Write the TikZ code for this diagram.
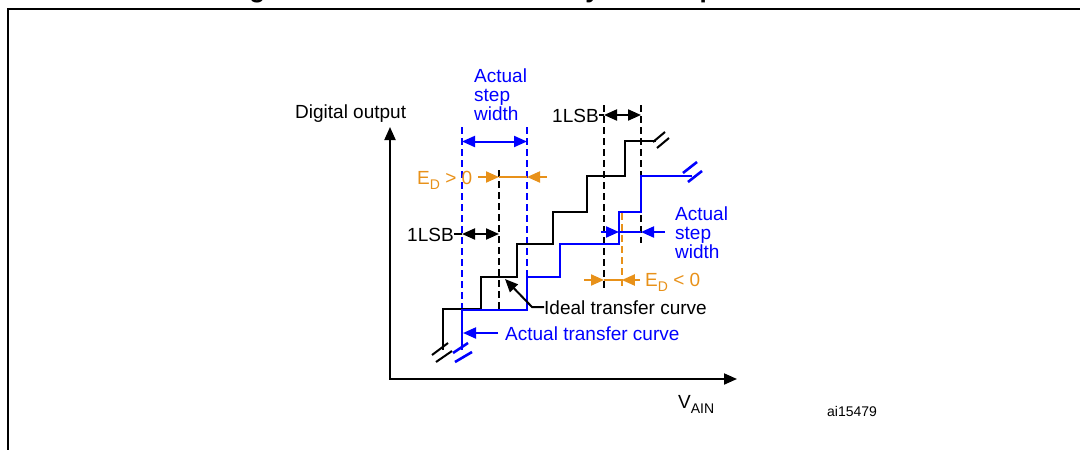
\documentclass[tikz,border=0pt]{standalone}
\usepackage{fontspec}
\setmainfont{Liberation Sans}
\usetikzlibrary{arrows.meta}
\definecolor{ablue}{RGB}{0,0,255}
\definecolor{aorange}{RGB}{232,145,25}
\newcommand\subtxt[1]{\raisebox{-0.3em}{\fontsize{14}{14}\selectfont #1}}
\begin{document}
\begin{tikzpicture}[x=1pt,y=-1pt,
  lbl/.style={inner sep=0pt, font=\fontsize{19}{19}\selectfont},
  multi/.style={lbl, align=left, anchor=north west},
  curve/.style={line width=2pt, line join=miter},
  brk/.style={line width=2pt},
  dsh/.style={line width=1.9pt, dash pattern=on 7pt off 4pt},
  conn/.style={line width=2pt},
  tipend/.style={-{Triangle[length=13pt,width=11pt]}},
  tipboth/.style={{Triangle[length=13pt,width=11pt]}-{Triangle[length=13pt,width=11pt]}},
]
\useasboundingbox (0,0) rectangle (1080,450);

% frame and clipped title
\draw[line width=2.5pt] (1082,9) -- (8,9) -- (8,452);
\node[anchor=base west, inner sep=0pt, font=\bfseries\fontsize{26}{26}\selectfont] (title) at (226,-2.5) {Figure 11. Differential linearity error representation};

% axes
\coordinate (O) at (390,379);
\coordinate (ytip) at (390,127);
\coordinate (xtip) at (737,379);
\draw[line width=2pt, line join=miter, tipboth] (ytip) -- (O) -- (xtip);
\node[lbl, anchor=base west] (yl) at (295,118) {Digital output};
\node[lbl, anchor=base west] (xl) at (678,408) {V\subtxt{AIN}};
\node[inner sep=0pt, font=\fontsize{14}{14}\selectfont, anchor=base west] (ref) at (827,416) {ai15479};

% dashed guide lines
\draw[dsh] (499,170) -- (499,309);
\draw[dsh] (604,105) -- (604,288);
\draw[dsh] (641,105) -- (641,243);
\draw[dsh, ablue] (462,127) -- (462,310);
\draw[dsh, ablue] (527,127) -- (527,277);

% ideal transfer curve (black)
\draw[curve] (443,350) -- (443,309) -- (481,309) -- (481,277) -- (517,277) -- (517,243.5)
  -- (553,243.5) -- (553,212) -- (587,212) -- (587,176) -- (625,176) -- (625,141) -- (656,141);
\draw[brk] (432,355) -- (448,343);
\draw[brk] (436,362) -- (452,351);
\draw[brk] (653,142) -- (665,132);
\draw[brk] (657,148) -- (669,138);

% actual transfer curve (blue)
\draw[curve, ablue] (462,350) -- (462,310) -- (527,310) -- (527,277) -- (560,277) -- (560,244)
  -- (619,244) -- (619,212) -- (641,212) -- (641,176) -- (692,176);
\draw[brk, ablue, line width=2.6pt] (453,353) -- (468,343);
\draw[brk, ablue, line width=2.6pt] (455,362) -- (472,352);
\draw[brk, ablue, line width=2.6pt] (683,173) -- (697,162);
\draw[brk, ablue, line width=2.6pt] (688,182) -- (702,171);

% orange dashed guide (drawn after the blue curve)
\draw[dsh, aorange, line width=2pt] (621.8,213) -- (621.8,287);

% top actual step width
\node[multi, ablue] (asw1) at (474,68.4) {Actual\\step\\width};
\coordinate (aswL) at (462,141.5);
\coordinate (aswR) at (527,141.5);
\draw[conn, ablue, tipboth] (aswL) -- (aswR);

% ED > 0
\node[lbl, anchor=base west, aorange] (edp) at (417,184) {E\subtxt{D} > 0};
\coordinate (edpA) at (478,177);
\coordinate (edpB) at (499,177);
\coordinate (edpC) at (527,177);
\coordinate (edpD) at (547,177);
\draw[conn, aorange] (edpB) -- (edpC);
\draw[conn, aorange, tipend] (edpA) -- (edpB);
\draw[conn, aorange, tipend] (edpD) -- (edpC);

% left 1LSB
\node[lbl, anchor=base west] (lsbA) at (407,241) {1LSB};
\coordinate (lsbA1) at (462,234);
\coordinate (lsbA2) at (499,234);
\draw[conn] (lsbA.east |- lsbA1) -- (lsbA1);
\draw[conn, tipboth] (lsbA1) -- (lsbA2);

% top 1LSB
\node[lbl, anchor=base west] (lsbB) at (552,122) {1LSB};
\coordinate (lsbB1) at (604,115);
\coordinate (lsbB2) at (641,115);
\draw[conn] (lsbB.east |- lsbB1) -- (lsbB1);
\draw[conn, tipboth] (lsbB1) -- (lsbB2);

% right actual step width
\node[multi, ablue] (asw2) at (675,206.4) {Actual\\step\\width};
\coordinate (rA) at (601,232);
\coordinate (rB) at (619,232);
\coordinate (rC) at (641,232);
\coordinate (rD) at (665,232);
\draw[conn, ablue] (rB) -- (rC);
\draw[conn, ablue, tipend] (rA) -- (rB);
\draw[conn, ablue, tipend] (rD) -- (rC);

% ED < 0
\node[lbl, anchor=base west, aorange] (edn) at (645,286) {E\subtxt{D} < 0};
\coordinate (enA) at (584,280);
\coordinate (enB) at (604,280);
\coordinate (enC) at (621.8,280);
\coordinate (enD) at (640,280);
\draw[conn, aorange] (enB) -- (enC);
\draw[conn, aorange, tipend] (enA) -- (enB);
\draw[conn, aorange, tipend] (enD) -- (enC);

% ideal transfer curve label
\node[lbl, anchor=base west] (ideal) at (544,314) {Ideal transfer curve};
\coordinate (idk) at (532,307);
\coordinate (idt) at (505,279);
\draw[conn, line join=miter, tipend] (ideal.west |- idk) -- (idk) -- (idt);

% actual transfer curve label
\node[lbl, anchor=base west, ablue] (actual) at (505,340) {Actual transfer curve};
\coordinate (acs) at (498,333);
\coordinate (act) at (463,333);
\draw[conn, ablue, tipend] (acs) -- (act);
\end{tikzpicture}
\end{document}
